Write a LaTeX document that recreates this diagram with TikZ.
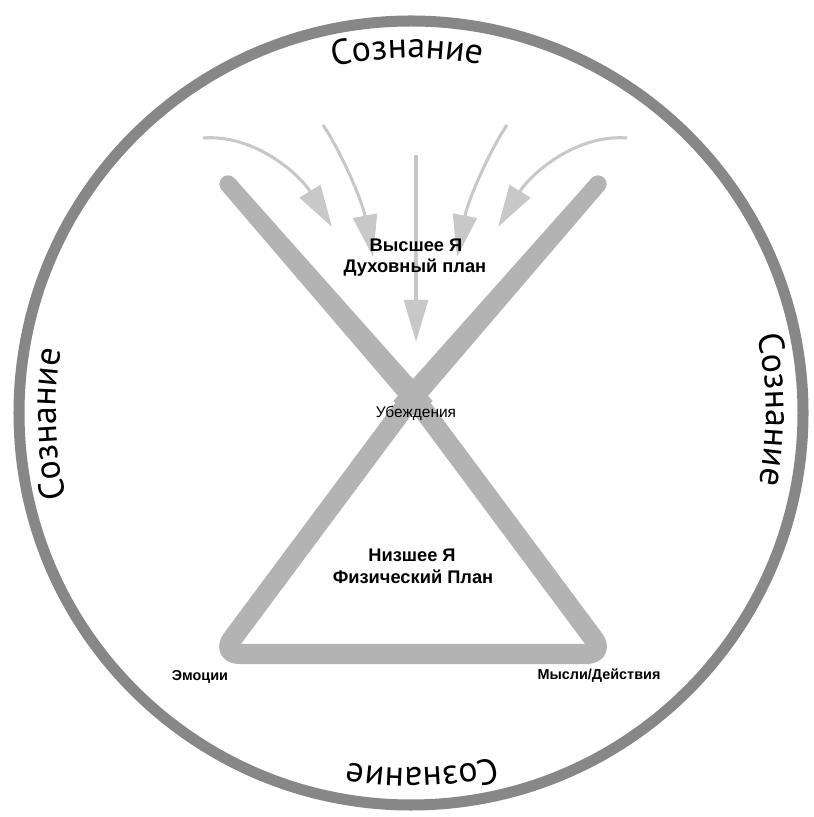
\documentclass[tikz,border=0pt]{standalone}
\usepackage{fontspec}
\setmainfont{Liberation Sans}
\newfontfamily\ringfont{PT Sans}
\usepackage{tikz}
\usetikzlibrary{arrows.meta, calc, decorations.text}
\definecolor{ringgray}{HTML}{878787}
\definecolor{armgray}{HTML}{B3B3B3}
\definecolor{flowgray}{HTML}{C8C8C8}
\newcommand{\ringsize}{\ringfont\fontsize{30.5}{36}\selectfont}

\begin{document}
\begin{tikzpicture}[x=0.03cm, y=0.03cm,
    ring/.style={draw=ringgray, line width=9.4pt},
    arm/.style={fill=armgray},
    base/.style={draw=armgray, line width=17.1pt, rounded corners=16pt, line join=round},
    flow/.style={draw=flowgray, line width=2.6pt, -{Triangle[length=35.9pt, width=20.5pt]}},
    bigl/.style={font=\bfseries\fontsize{15.6}{18}\selectfont, anchor=base},
    smalll/.style={font=\fontsize{13.2}{15}\selectfont, anchor=base},
    ringtext/.style={decorate, decoration={text along path, text align=center, text={|\ringsize|#1}}},
]
  \useasboundingbox (0,0) rectangle (813,817);

  % Outer circle with its four labels, read clockwise
  \coordinate (o) at (411,404);
  \draw[ring] (o) circle[radius=392];
  \path[ringtext=Сознание] ($(o)+(130.6:355)$) arc[start angle=130.6, end angle=50.6, radius=355];
  \path[ringtext=Сознание] ($(o)+(40.5:355)$) arc[start angle=40.5, end angle=-39.5, radius=355];
  \path[ringtext=Сознание] ($(o)+(-48.2:355)$) arc[start angle=-48.2, end angle=-128.2, radius=355];
  \path[ringtext=Сознание] ($(o)+(221.8:355)$) arc[start angle=221.8, end angle=141.8, radius=355];

  % Hourglass: triangle below, two arms above
  \coordinate (tl) at (228,633);
  \coordinate (tr) at (598,633);
  \coordinate (x) at (413,421);
  \coordinate (bl) at (221,163);
  \coordinate (br) at (605,163);
  \draw[base] (x) -- (bl) -- (br) -- cycle;
  \coordinate (xl) at ($(tl)!1.06!(x)$);
  \coordinate (xr) at ($(tr)!1.06!(x)$);
  \fill[arm] ($(tl)!7.4pt!90:(x)$) -- ($(xl)!9.8pt!-90:(tl)$) -- ($(xl)!9.8pt!90:(tl)$) -- ($(tl)!7.4pt!-90:(x)$) -- cycle;
  \fill[arm] (tl) circle[radius=7.4pt];
  \fill[arm] ($(tr)!7.4pt!90:(x)$) -- ($(xr)!9.8pt!-90:(tr)$) -- ($(xr)!9.8pt!90:(tr)$) -- ($(tr)!7.4pt!-90:(x)$) -- cycle;
  \fill[arm] (tr) circle[radius=7.4pt];

  % Incoming arrows from above
  \coordinate (s1) at (203,679);
  \coordinate (e1) at (332,590);
  \coordinate (s2) at (323,692);
  \coordinate (e2) at (373,560);
  \coordinate (s3) at (416,662);
  \coordinate (e3) at (416,475);
  \coordinate (s4) at (507,692);
  \coordinate (e4) at (457,560);
  \coordinate (s5) at (627,679);
  \coordinate (e5) at (498,590);
  \draw[flow] (s1) .. controls (255,683) and (300,642) .. (e1);
  \draw[flow] (s2) .. controls (340,667) and (362,617) .. (e2);
  \draw[flow] (s3) -- (e3);
  \draw[flow] (s4) .. controls (490,667) and (468,617) .. (e4);
  \draw[flow] (s5) .. controls (575,683) and (530,642) .. (e5);

  % Labels
  \node[bigl] (hiself) at (416,565) {Высшее Я};
  \node[bigl] (hiplan) at (415,544) {Духовный план};
  \node[smalll] (belief) at (416,399) {Убеждения};
  \node[bigl] (loself) at (412,255) {Низшее Я};
  \node[bigl] (loplan) at (413,233) {Физический План};
  \node[smalll, font=\bfseries\fontsize{12.3}{15}\selectfont] (emo) at (200,136) {Эмоции};
  \node[smalll, font=\bfseries\fontsize{12.3}{15}\selectfont] (act) at (599,137) {Мысли/Действия};
\end{tikzpicture}
\end{document}
